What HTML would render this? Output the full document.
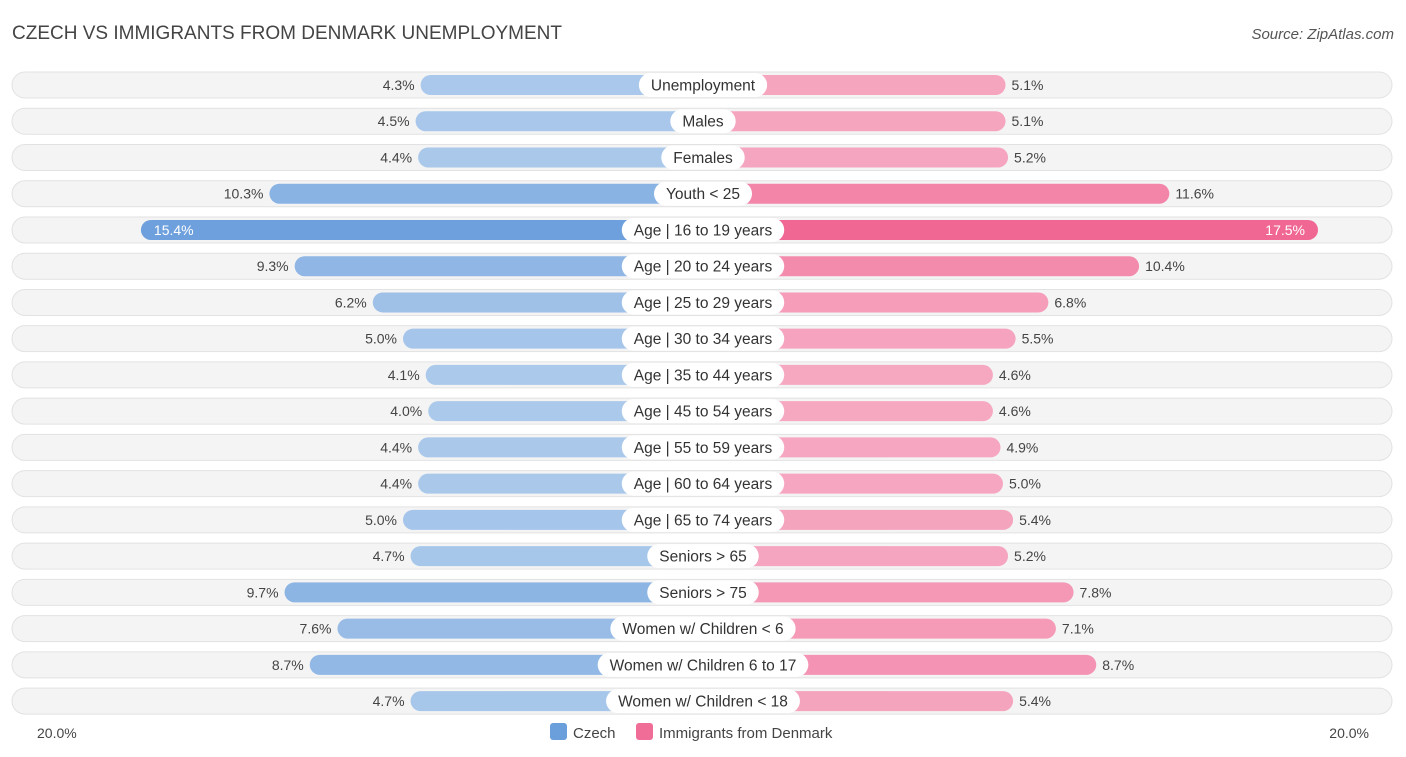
<!DOCTYPE html>
<html><head><meta charset="utf-8">
<style>
body{margin:0;background:#fff;font-family:"Liberation Sans",sans-serif;}
#c{position:relative;width:1406px;height:757px;overflow:hidden;}
</style></head>
<body>
<div id="c">
<svg id="s" width="1406" height="757" xmlns="http://www.w3.org/2000/svg">
<text x="12" y="39" font-size="19" fill="#444">CZECH VS IMMIGRANTS FROM DENMARK UNEMPLOYMENT</text>
<text x="1394" y="39" font-size="15" fill="#555" font-style="italic" text-anchor="end">Source: ZipAtlas.com</text>
<text x="37" y="738" font-size="14" fill="#444">20.0%</text>
<text x="1369" y="738" font-size="14" fill="#444" text-anchor="end">20.0%</text>
<rect x="550" y="723" width="17" height="17" rx="3" fill="#6a9fdc"/>
<text x="573" y="738" font-size="15" fill="#444">Czech</text>
<rect x="636" y="723" width="17" height="17" rx="3" fill="#f06d97"/>
<text x="659" y="738" font-size="15" fill="#444">Immigrants from Denmark</text>
<g id="rows"></g>
</svg>
</div>
<script>
const categories=["Unemployment","Males","Females","Youth < 25","Age | 16 to 19 years","Age | 20 to 24 years","Age | 25 to 29 years","Age | 30 to 34 years","Age | 35 to 44 years","Age | 45 to 54 years","Age | 55 to 59 years","Age | 60 to 64 years","Age | 65 to 74 years","Seniors > 65","Seniors > 75","Women w/ Children < 6","Women w/ Children 6 to 17","Women w/ Children < 18"];
const czech=[4.3,4.5,4.4,10.3,15.4,9.3,6.2,5.0,4.1,4.0,4.4,4.4,5.0,4.7,9.7,7.6,8.7,4.7];
const denmark=[5.1,5.1,5.2,11.6,17.5,10.4,6.8,5.5,4.6,4.6,4.9,5.0,5.4,5.2,7.8,7.1,8.7,5.4];
const NS="http://www.w3.org/2000/svg";
const cx=703,row0=85,rowH=36.24;
function len(v){return 174+25.2*v;}
function rowY(i){return row0+i*rowH;}
function mix(a,b,t){const p=x=>[1,3,5].map(k=>parseInt(x.substr(k,2),16));const A=p(a),B=p(b);return "rgb("+A.map((v,k)=>Math.round(v+(B[k]-v)*t)).join(",")+")";}
const g=document.getElementById('rows');
function el(tag,attrs){const e=document.createElementNS(NS,tag);for(const k in attrs)e.setAttribute(k,attrs[k]);g.appendChild(e);return e;}
const mx=Math.max(...czech,...denmark);
categories.forEach((c,i)=>{
 const y=rowY(i);
 const bg=el('rect',{x:12,y:y-13,width:1380,height:26,rx:13,fill:"#f4f4f4",stroke:"#e2e2e2","stroke-width":1});
 
 
 const lc=len(czech[i]),ld=len(denmark[i]);
 const tc=Math.min(1,(czech[i]-4)/(mx-4)),td=Math.min(1,(denmark[i]-4)/(mx-4));
 const b1=el('rect',{x:cx-lc,y:y-10,width:lc,height:20,rx:10,fill:mix("#abc9eb","#6399da",tc)});
 
 
 const b2=el('rect',{x:cx,y:y-10,width:ld,height:20,rx:10,fill:mix("#f6abc3","#f06794",td)});
 
 
 const inside=i===4;
 const v1=el('text',{x:inside?cx-lc+13:cx-lc-6,y:y+5,"font-size":14,fill:inside?"#fff":"#444","text-anchor":inside?"start":"end"});
 v1.textContent=czech[i].toFixed(1)+"%";
 
 
 const v2=el('text',{x:inside?cx+ld-13:cx+ld+6,y:y+5,"font-size":14,fill:inside?"#fff":"#444","text-anchor":inside?"end":"start"});
 v2.textContent=denmark[i].toFixed(1)+"%";
 
 
 const lb=el('rect',{x:cx,y:y-12,width:10,height:24,rx:12,fill:"#fff"});
 
 
 const t=el('text',{x:cx,y:y+5.5,"font-size":15.5,fill:"#333","text-anchor":"middle"});
 t.textContent=c;
 
 
 const w=t.getComputedTextLength()+24;
 lb.setAttribute('x',cx-w/2);
 lb.setAttribute('width',w);
});
</script>
</body></html>
